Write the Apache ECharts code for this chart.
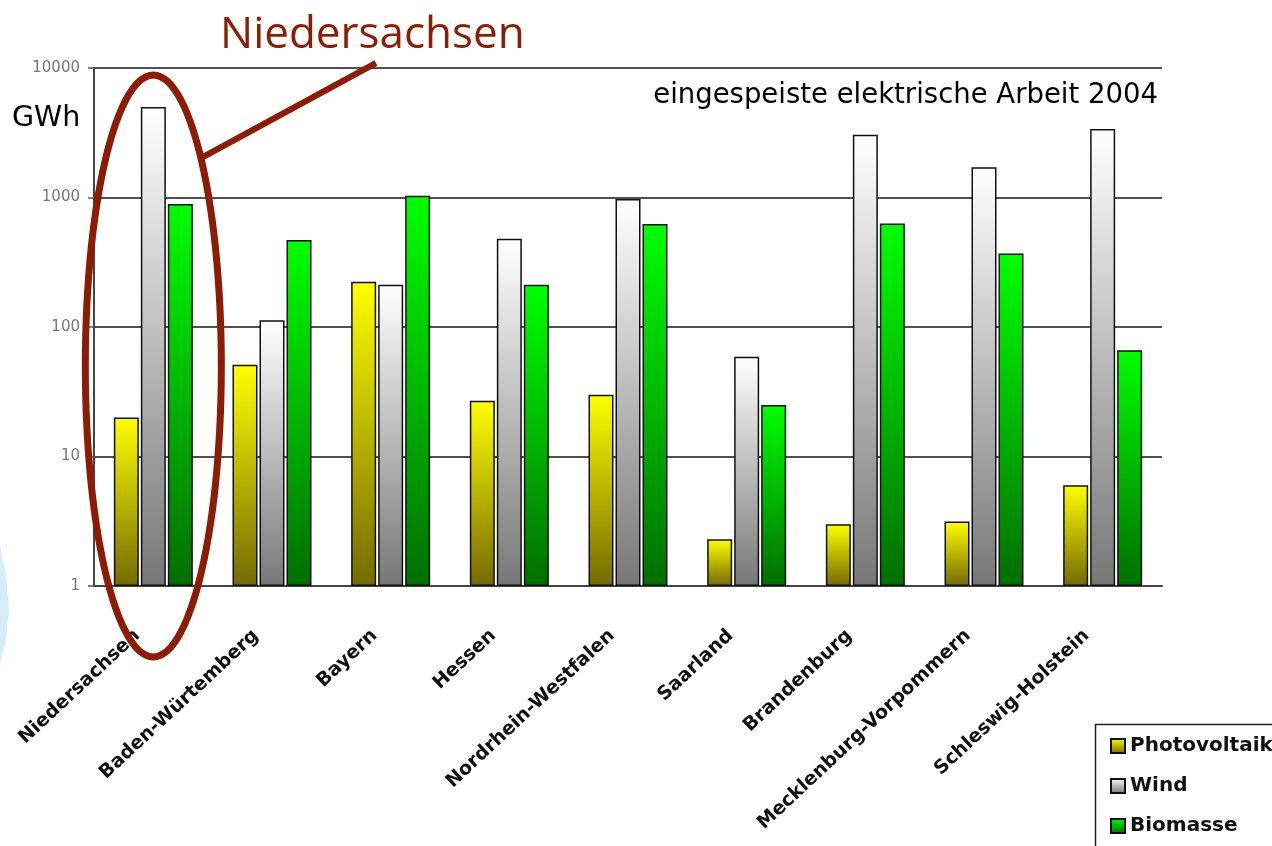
<!DOCTYPE html>
<html>
<head>
<meta charset="utf-8">
<script src="https://cdn.jsdelivr.net/npm/echarts@6/dist/echarts.min.js"></script>
<style>
  html, body { margin: 0; padding: 0; background: #fff; }
  #chart { width: 1272px; height: 846px; }
</style>
</head>
<body>
<div id="chart"></div>
<script>
// Bundesländer (x-Achse)
const laender = ['Niedersachsen', 'Baden-Würtemberg', 'Bayern', 'Hessen', 'Nordrhein-Westfalen',
  'Saarland', 'Brandenburg', 'Mecklenburg-Vorpommern', 'Schleswig-Holstein']
// eingespeiste Arbeit 2004 in GWh
const photovoltaik = [20, 51, 224, 27, 30, 2.3, 3.0, 3.15, 6]
const wind = [5000, 113, 212, 480, 975, 59, 3050, 1710, 3380]
const biomasse = [890, 470, 1030, 212, 625, 25, 630, 370, 66]
// Beschriftung der log-Achse
const yTickLabels = ['1', '10', '100', '1000', '10000']

const chart = echarts.init(document.getElementById('chart'))

// senkrechter Farbverlauf pro Balken
function grad(top, bottom) {
  return {
    type: 'linear', x: 0, y: 0, x2: 0, y2: 1,
    colorStops: [{ offset: 0, color: top }, { offset: 1, color: bottom }]
  }
}

function barSeries(name, data, color) {
  return {
    name: name,
    type: 'bar',
    data: data,
    barWidth: 25,
    barGap: '8%',
    itemStyle: { color: color, borderColor: '#111', borderWidth: 1.5 }
  }
}

const option = {
  backgroundColor: '#fff',
  animation: false,
  grid: { left: 94, right: 110, top: 68, bottom: 260 },
  xAxis: {
    type: 'category',
    data: laender,
    axisLine: { lineStyle: { color: '#444', width: 2 } },
    axisTick: { show: false },
    axisLabel: {
      interval: 0,
      rotate: 43,
      margin: 32,
      padding: [0, 22, 0, 0],
      color: '#111',
      fontFamily: 'DejaVu Sans',
      fontWeight: 'bold',
      fontSize: 19
    }
  },
  yAxis: {
    type: 'log',
    logBase: 10,
    min: 1,
    max: 10000,
    axisLine: { show: true, lineStyle: { color: '#444', width: 2 } },
    axisTick: { show: true, length: 6, lineStyle: { color: '#555', width: 1.5 } },
    splitLine: { lineStyle: { color: '#505050', width: 2 } },
    axisLabel: {
      margin: 14,
      color: '#777',
      fontFamily: 'DejaVu Sans',
      fontSize: 15,
      formatter: (v, i) => yTickLabels[i]
    }
  },
  legend: {
    orient: 'vertical',
    left: 1095,
    top: 724,
    padding: [12, 40, 2, 15],
    icon: 'rect',
    itemWidth: 14,
    itemHeight: 14,
    itemGap: 20,
    textStyle: { color: '#111', fontFamily: 'DejaVu Sans', fontWeight: 'bold', fontSize: 20, lineHeight: 20 }
  },
  series: [
    barSeries('Photovoltaik', photovoltaik, grad('#ffff00', '#746a00')),
    barSeries('Wind', wind, grad('#ffffff', '#777777')),
    barSeries('Biomasse', biomasse, grad('#00ff00', '#006e00'))
  ]
}
chart.setOption(option)

// Markierung um Niedersachsen
const cx = chart.convertToPixel({ xAxisIndex: 0 }, laender[0])
const rx = 68, ry = 291, cy = 366
const pts = []
for (let k = 0; k < 120; k++) {
  const t = k / 120 * Math.PI * 2
  pts.push([cx + rx * Math.cos(t), cy + ry * Math.sin(t)])
}
const red = '#8c1c04'

chart.setOption({
  graphic: [
    {
      type: 'polygon',
      shape: { points: [[0, 545], [6, 575], [9, 610], [6, 640], [0, 665]] },
      style: { fill: '#d6eef9' },
      z: 0
    },
    {
      // Legendenrahmen, läuft unten und rechts aus dem Bild
      type: 'rect', z: 5,
      shape: { x: 1095.5, y: 724.5, width: 220, height: 160 },
      style: { fill: 'none', stroke: '#222', lineWidth: 1.5 }
    },
    {
      type: 'text', left: 12, top: 104, z: 10,
      style: { text: 'GWh', fill: '#000', font: '28.5px "DejaVu Sans"' }
    },
    {
      type: 'text', right: 114, top: 82, z: 10,
      style: { text: 'eingespeiste elektrische Arbeit 2004', fill: '#000', font: '27.5px "DejaVu Sans"' }
    },
    {
      type: 'text', left: 220, top: 13, z: 10,
      style: { text: 'Niedersachsen', fill: red, font: '44px "Open Sans"' }
    },
    {
      type: 'polygon', z: 20,
      shape: { points: pts },
      style: { fill: 'none', stroke: red, lineWidth: 7 }
    },
    {
      type: 'line', z: 20,
      shape: { x1: 203, y1: 157, x2: 376, y2: 63 },
      style: { stroke: red, lineWidth: 6 }
    }
  ]
})
</script>
</body>
</html>
